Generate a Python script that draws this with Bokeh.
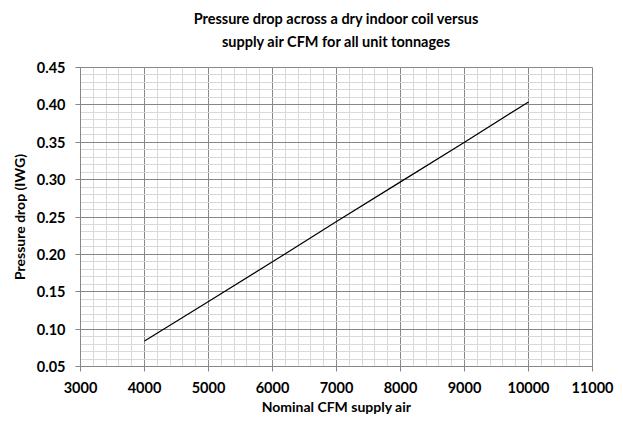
from bokeh.plotting import figure
from bokeh.models import Range1d, SingleIntervalTicker, PrintfTickFormatter, Title
from bokeh.embed import file_html
from bokeh.resources import INLINE

# Data
cfm = [4000, 5000, 6000, 7000, 8000, 9000, 10000]
pressure_drop = [0.084, 0.137, 0.190, 0.244, 0.297, 0.350, 0.404]

title_lines = ["Pressure drop across a dry indoor coil versus",
               "supply air CFM for all unit tonnages"]
x_label = "Nominal CFM supply air"
y_label = "Pressure drop (IWG)"

FONT = "Lato"
MAJOR = "#878787"
MINOR = "#d9d9d9"

p = figure(width=623, height=422, output_backend="svg", toolbar_location=None,
           x_range=Range1d(3000, 11000), y_range=Range1d(0.05, 0.45),
           min_border_left=80, min_border_right=31, min_border_top=67, min_border_bottom=56)
p.title = None

t2 = Title(text=title_lines[1], align="center", text_font=FONT, text_font_size="14.5px",
           text_font_style="bold", text_color="black", standoff=0)
try:
    t2.padding = (0, 0, 0, 18)  # left, right, top, bottom
except Exception:
    pass
t1 = Title(text=title_lines[0], align="center", text_font=FONT, text_font_size="14.5px",
           text_font_style="bold", text_color="black", standoff=7)
p.add_layout(t2, "above")
p.add_layout(t1, "above")

p.line(cfm, pressure_drop, line_color="black", line_width=1.2)

p.xaxis.ticker = SingleIntervalTicker(interval=1000, num_minor_ticks=5)
p.yaxis.ticker = SingleIntervalTicker(interval=0.05, num_minor_ticks=5)
p.yaxis.formatter = PrintfTickFormatter(format="%.2f")

for ax in (p.xaxis, p.yaxis):
    ax.axis_line_color = MAJOR
    ax.major_tick_line_color = MAJOR
    ax.major_tick_out = 5
    ax.major_tick_in = 0
    ax.minor_tick_line_color = None
    ax.major_label_text_font = FONT
    ax.major_label_text_font_size = "14.5px"
    ax.major_label_text_font_style = "bold"
    ax.major_label_text_color = "black"
    ax.axis_label_text_font = FONT
    ax.axis_label_text_font_size = "14px"
    ax.axis_label_text_font_style = "bold"
    ax.axis_label_text_color = "black"

p.xaxis.axis_label = x_label
p.yaxis.axis_label = y_label
p.xaxis.major_label_standoff = 10
p.yaxis.major_label_standoff = 10
p.xaxis.axis_label_standoff = 2
p.yaxis.axis_label_standoff = 6

p.grid.grid_line_color = MAJOR
p.grid.minor_grid_line_color = MINOR
p.outline_line_color = MAJOR
p.background_fill_color = "white"
p.border_fill_color = "white"

open("out.html", "w").write(file_html(p, INLINE))
